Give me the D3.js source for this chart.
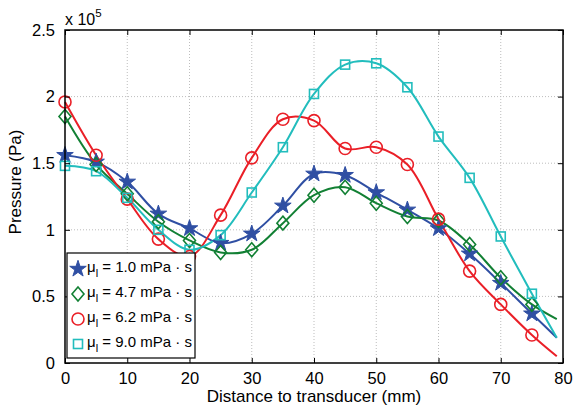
<!DOCTYPE html>
<html>
<head>
<meta charset="utf-8">
<script src="https://cdn.jsdelivr.net/npm/d3@7"></script>
<style>
  body { margin: 0; background: #fff; }
  svg text { font-family: "Liberation Sans", Arial, Helvetica, sans-serif; }
</style>
</head>
<body>
<div id="vis" style="width:573px;height:408px"></div>
<script>
// distances (mm) where markers were measured
var distances = [0, 5, 10, 15, 20, 25, 30, 35, 40, 45, 50, 55, 60, 65, 70, 75];
// pressure in units of 1e5 Pa
var mu10 = [1.56, 1.51, 1.36, 1.12, 1.01, 0.90, 0.97, 1.18, 1.42, 1.41, 1.28, 1.15, 1.01, 0.82, 0.60, 0.37];
var mu47 = [1.85, 1.49, 1.27, 1.06, 0.92, 0.83, 0.85, 1.05, 1.26, 1.32, 1.20, 1.10, 1.07, 0.89, 0.64, 0.44];
var mu62 = [1.96, 1.56, 1.23, 0.93, 0.80, 1.11, 1.54, 1.83, 1.82, 1.61, 1.62, 1.49, 1.08, 0.69, 0.44, 0.21];
var mu90 = [1.48, 1.44, 1.24, 1.00, 0.85, 0.96, 1.28, 1.62, 2.02, 2.24, 2.25, 2.07, 1.70, 1.39, 0.95, 0.52];
// where the fitted curves end
var curveEndX = 79;
var curveEnd = [0.19, 0.33, 0.05, 0.19];
var seriesNames = ["1.0", "4.7", "6.2", "9.0"];
var seriesColors = ["#2f4fa3", "#128034", "#ea1f27", "#22bdbd"];
var seriesMarkers = ["star", "diamond", "circle", "square"];
var xTicks = [0, 10, 20, 30, 40, 50, 60, 70, 80];
var yTicks = [0, 0.5, 1, 1.5, 2, 2.5];

var allSeries = [mu10, mu47, mu62, mu90];

var W = 573, H = 408;
var margin = { top: 30, right: 10, bottom: 45, left: 65 };
var width = W - margin.left - margin.right;
var height = H - margin.top - margin.bottom;

var svg = d3.select('#vis').append('svg')
    .attr('width', W).attr('height', H);

var g = svg.append('g')
    .attr('transform', 'translate(' + margin.left + ',' + margin.top + ')');

var x = d3.scaleLinear().domain([0, 80]).range([0, width]);
var y = d3.scaleLinear().domain([0, 2.5]).range([height, 0]);

// grid
g.append('g').selectAll('line').data(xTicks.slice(1, -1)).enter().append('line')
    .attr('x1', d => x(d)).attr('x2', d => x(d))
    .attr('y1', 0).attr('y2', height)
    .attr('stroke', '#bdbdbd').attr('stroke-width', 1).attr('stroke-dasharray', '1,2');
g.append('g').selectAll('line').data(yTicks.slice(1, -1)).enter().append('line')
    .attr('y1', d => y(d)).attr('y2', d => y(d))
    .attr('x1', 0).attr('x2', width)
    .attr('stroke', '#bdbdbd').attr('stroke-width', 1).attr('stroke-dasharray', '1,2');

// curves
var line = d3.line()
    .x(d => x(d[0])).y(d => y(d[1]))
    .curve(d3.curveCatmullRom.alpha(0.5));

allSeries.forEach(function(vals, i) {
    var pts = distances.map((dd, j) => [dd, vals[j]]);
    pts.push([curveEndX, curveEnd[i]]);
    g.append('path').datum(pts)
        .attr('d', line)
        .attr('fill', 'none')
        .attr('stroke', seriesColors[i])
        .attr('stroke-width', 2);
});

function drawMarker(sel, type, color) {
    if (type == 'star') {
        sel.append('path').attr('d', d3.symbol().type(d3.symbolStar).size(85)())
            .attr('fill', color).attr('stroke', color).attr('stroke-width', 1);
    } else if (type == 'diamond') {
        sel.append('path').attr('d', 'M0,-7L6,0L0,7L-6,0Z')
            .attr('fill', 'none').attr('stroke', color).attr('stroke-width', 1.6);
    } else if (type == 'circle') {
        sel.append('circle').attr('r', 6)
            .attr('fill', 'none').attr('stroke', color).attr('stroke-width', 1.6);
    } else {
        sel.append('rect').attr('x', -4.5).attr('y', -4.5).attr('width', 9).attr('height', 9)
            .attr('fill', 'none').attr('stroke', color).attr('stroke-width', 1.6);
    }
}

allSeries.forEach(function(vals, i) {
    g.append('g').selectAll('g').data(distances).enter().append('g')
        .attr('transform', (d, j) => 'translate(' + x(d) + ',' + y(vals[j]) + ')')
        .each(function() { drawMarker(d3.select(this), seriesMarkers[i], seriesColors[i]); });
});

// axes box with inward ticks
var xAxis = d3.axisBottom(x).tickValues(xTicks).tickSizeInner(-5).tickSizeOuter(0).tickPadding(9);
var yAxis = d3.axisLeft(y).tickValues(yTicks).tickSizeInner(-5).tickSizeOuter(0).tickPadding(10)
    .tickFormat(d3.format('~g'));
g.append('g').attr('transform', 'translate(0,' + height + ')').call(xAxis)
    .call(a => a.selectAll('text').style('font-size', '16.5px').attr('fill', '#000'));
g.append('g').call(yAxis)
    .call(a => a.selectAll('text').style('font-size', '16.5px').attr('fill', '#000'));
g.append('g').call(d3.axisTop(x).tickValues(xTicks).tickSizeInner(-5).tickSizeOuter(0).tickFormat(''));
g.append('g').attr('transform', 'translate(' + width + ',0)')
    .call(d3.axisRight(y).tickValues(yTicks).tickSizeInner(-5).tickSizeOuter(0).tickFormat(''));
g.selectAll('.domain').attr('stroke', 'none');
g.selectAll('.tick line').attr('stroke', '#000');
g.append('rect').attr('width', width).attr('height', height)
    .attr('fill', 'none').attr('stroke', '#000').attr('stroke-width', 1.5);

// labels
svg.append('text').attr('x', margin.left).attr('y', 25).style('font-size', '16px')
    .text('x 10')
    .append('tspan').attr('dy', -8).style('font-size', '11.5px').text('5');
svg.append('text').attr('transform', 'translate(21,182)rotate(-90)')
    .attr('text-anchor', 'middle').style('font-size', '17px').text('Pressure (Pa)');
svg.append('text').attr('x', 314).attr('y', 402)
    .attr('text-anchor', 'middle').style('font-size', '17px').text('Distance to transducer (mm)');

// legend
var lg = svg.append('g').attr('transform', 'translate(67,253)');
lg.append('rect').attr('width', 128).attr('height', 105)
    .attr('fill', '#fff').attr('stroke', '#000').attr('stroke-width', 1.2);
seriesNames.forEach(function(nm, i) {
    var row = lg.append('g').attr('transform', 'translate(0,' + (13 + i * 25) + ')');
    var m = row.append('g').attr('transform', 'translate(11,3)');
    drawMarker(m, seriesMarkers[i], seriesColors[i]);
    var t = row.append('text').attr('x', 20).attr('y', 6).style('font-size', '15px');
    t.append('tspan').text('\u03bc');
    t.append('tspan').attr('dy', 5).style('font-size', '11px').text('l');
    t.append('tspan').attr('dy', -5).text(' = ' + nm + ' mPa \u00b7 s');
});
</script>
</body>
</html>
